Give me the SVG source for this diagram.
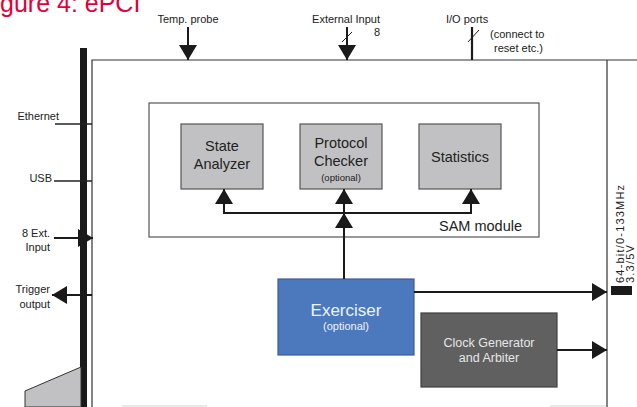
<svg xmlns="http://www.w3.org/2000/svg" width="637" height="407" viewBox="0 0 637 407">
<style>
text{font-family:"Liberation Sans",Arial,sans-serif;fill:#222}
.lbl{font-size:11px}
.bus{font-size:11px;letter-spacing:1.2px}
.box{font-size:14.5px;text-anchor:middle}
.opt{font-size:9.5px;text-anchor:middle}
.frame{fill:none;stroke:#333;stroke-width:1.2}
.inner{fill:#c1c1c3;stroke:#555;stroke-width:1.2}
.conn{fill:none;stroke:#1a1a1a;stroke-width:2}
</style>
<defs>
<marker id="ah" viewBox="0 0 15 18" refX="15" refY="9" markerWidth="15" markerHeight="18" markerUnits="userSpaceOnUse" orient="auto">
<path d="M0,0 L15,9 L0,18 z" fill="#1a1a1a"/>
</marker>
</defs>
<rect width="637" height="407" fill="#fff"/>
<text x="0" y="12" style="font-size:25px;fill:#e4003b">gure 4: ePCI</text>

<g id="frame">
<path class="frame" d="M92,407 V60 H637 M607,60 V407"/>
<rect x="80" y="48" width="7" height="359" fill="#1a1a1a"/>
<polygon points="25,391 81,367 81,407 25,407" fill="#c1c1c3" stroke="#333" stroke-width="1"/>
<path d="M122,406 H207 M550,406 H606" stroke="#e2e2e2" stroke-width="1.5"/>
</g>

<g id="sam-module">
<rect x="149" y="103" width="390" height="134" fill="#fff" stroke="#555" stroke-width="1.2"/>
<text x="522" y="231" style="font-size:14.5px;text-anchor:end">SAM module</text>
</g>
<g id="state-analyzer">
<rect class="inner" x="181" y="124" width="82" height="65"/>
<text class="box" x="222" y="151">State</text>
<text class="box" x="222" y="169">Analyzer</text>
</g>
<g id="protocol-checker">
<rect class="inner" x="300" y="124" width="82" height="65"/>
<text class="box" x="341" y="148">Protocol</text>
<text class="box" x="341" y="166">Checker</text>
<text class="opt" x="341" y="181">(optional)</text>
</g>
<g id="statistics">
<rect class="inner" x="419" y="124" width="82" height="65"/>
<text class="box" x="460" y="162">Statistics</text>
</g>
<g id="exerciser">
<rect x="278" y="279" width="136" height="76" fill="#4c79be" stroke="#3a5e95" stroke-width="1.2"/>
<text x="346" y="316" style="font-size:17px;text-anchor:middle;fill:#eef2fa">Exerciser</text>
<text x="346" y="330" style="font-size:11px;text-anchor:middle;fill:#eef2fa">(optional)</text>
</g>
<g id="clock-generator">
<rect x="421" y="313" width="136" height="74" fill="#606061" stroke="#404040" stroke-width="1.2"/>
<text x="489" y="347" style="font-size:12.5px;text-anchor:middle;fill:#e6e6e6">Clock Generator</text>
<text x="489" y="362" style="font-size:12.5px;text-anchor:middle;fill:#e6e6e6">and Arbiter</text>
</g>
<g id="pci-bus">
<rect x="611" y="286" width="21" height="9" fill="#1a1a1a"/>
<text class="bus" transform="translate(624,283) rotate(-90)">64-bit/0-133MHz</text>
<text class="bus" transform="translate(634,283) rotate(-90)">3.3/5V</text>
</g>
<g id="top-labels">
<text class="lbl" x="188" y="23" text-anchor="middle">Temp. probe</text>
<text class="lbl" x="346" y="23" text-anchor="middle">External Input</text>
<text class="lbl" x="377" y="36" text-anchor="middle">8</text>
<text class="lbl" x="446" y="23">I/O ports</text>
<text class="lbl" x="490" y="38">(connect to</text>
<text class="lbl" x="494" y="52">reset etc.)</text>
</g>
<g id="left-labels">
<text class="lbl" x="59" y="120" text-anchor="end">Ethernet</text>
<text class="lbl" x="52" y="182" text-anchor="end">USB</text>
<text class="lbl" x="50" y="237" text-anchor="end">8 Ext.</text>
<text class="lbl" x="50" y="251" text-anchor="end">Input</text>
<text class="lbl" x="50" y="293" text-anchor="end">Trigger</text>
<text class="lbl" x="50" y="308" text-anchor="end">output</text>
</g>

<g id="connectors">
<line class="conn" x1="188" y1="27" x2="188" y2="60" marker-end="url(#ah)"/>
<line class="conn" x1="347" y1="27" x2="347" y2="60" marker-end="url(#ah)"/>
<line x1="342" y1="42" x2="352" y2="32" stroke="#222" stroke-width="1"/>
<line x1="472" y1="27" x2="472" y2="60" stroke="#1a1a1a" stroke-width="2.2"/>
<line x1="468" y1="42" x2="479" y2="30" stroke="#222" stroke-width="1"/>
<line x1="55" y1="124" x2="92" y2="124" stroke="#222" stroke-width="1.5"/>
<line x1="54" y1="181" x2="92" y2="181" stroke="#222" stroke-width="1.5"/>
<line class="conn" x1="54" y1="238" x2="93" y2="238" marker-end="url(#ah)"/>
<line class="conn" x1="92" y1="295" x2="52" y2="295" marker-end="url(#ah)"/>
<line class="conn" x1="344" y1="279" x2="344" y2="213" marker-end="url(#ah)"/>
<line class="conn" x1="344" y1="213" x2="344" y2="189" marker-end="url(#ah)"/>
<path class="conn" d="M224,213 H471"/>
<line class="conn" x1="224" y1="214" x2="224" y2="189" marker-end="url(#ah)"/>
<line class="conn" x1="471" y1="214" x2="471" y2="189" marker-end="url(#ah)"/>
<line class="conn" x1="414" y1="292" x2="607" y2="292" marker-end="url(#ah)"/>
<line class="conn" x1="557" y1="350" x2="607" y2="350" marker-end="url(#ah)"/>
</g>
</svg>
